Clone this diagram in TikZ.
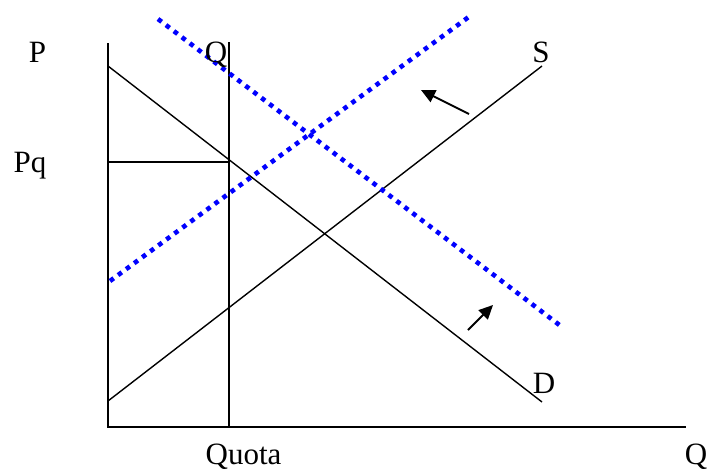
\documentclass[tikz,border=0pt]{standalone}
\usepackage{fontspec}
\setmainfont{Liberation Serif}
\usetikzlibrary{arrows.meta}
\begin{document}
\begin{tikzpicture}[x=1pt,y=-1pt,
  axis/.style={line width=1.8pt,black},
  curve/.style={line width=1.4pt,black},
  shifted/.style={line width=4.6pt,blue,dash pattern=on 4.6pt off 5.4pt},
  shiftarrow/.style={line width=1.8pt,-{Triangle[length=14pt,width=13pt]}},
  lbl/.style={font=\fontsize{31}{31}\selectfont,anchor=base,inner sep=0pt}]
\useasboundingbox (0,0) rectangle (707,469);
% coordinates
\coordinate (O) at (108,427);
\coordinate (Ytop) at (108,43);
\coordinate (Xend) at (686,427);
\coordinate (Qtop) at (229,42);
\coordinate (Qbot) at (229,427);
\coordinate (PqL) at (108,162);
\coordinate (PqR) at (229,162);
\coordinate (D1) at (108,66);
\coordinate (D2) at (542,402);
\coordinate (S1) at (108,401);
\coordinate (S2) at (542,66);
\coordinate (Dn1) at (158,19);
\coordinate (Dn2) at (562,327);
\coordinate (Sn1) at (110,281);
\coordinate (Sn2) at (470,16);
\coordinate (A1s) at (469,114);
\coordinate (A1e) at (421,90);
\coordinate (A2s) at (468,330);
\coordinate (A2e) at (493,305);
% axes
\draw[axis] (Ytop) -- (O) -- (Xend);
\draw[axis] (Qtop) -- (Qbot);
\draw[axis] (PqL) -- (PqR);
% curves
\draw[curve] (D1) -- (D2);
\draw[curve] (S1) -- (S2);
% shifted curves
\draw[shifted] (Dn1) -- (Dn2);
\draw[shifted] (Sn1) -- (Sn2);
% arrows
\draw[shiftarrow] (A1s) -- (A1e);
\draw[shiftarrow] (A2s) -- (A2e);
% labels
\node[lbl] (P) at (37.5,62) {P};
\node[lbl] (Pq) at (30,172) {Pq};
\node[lbl] (Qq) at (216,62) {Q};
\node[lbl] (S) at (541,62) {S};
\node[lbl] (D) at (544,393) {D};
\node[lbl] (Qx) at (696,464) {Q};
\node[lbl] (Quota) at (243.5,464) {Quota};
\end{tikzpicture}
\end{document}
